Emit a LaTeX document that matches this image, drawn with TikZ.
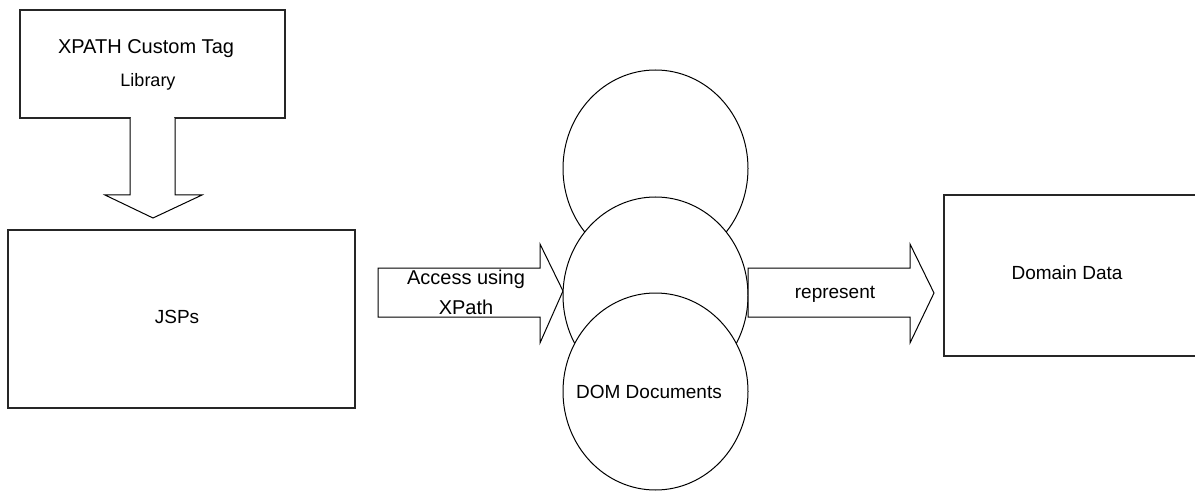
\documentclass[tikz,border=0pt]{standalone}
\usepackage{fontspec}
\setmainfont{Liberation Sans}
\usetikzlibrary{shapes.geometric}
\begin{document}
\begin{tikzpicture}[x=1pt,y=-1pt,
  box/.style={draw=black!85,line width=1.5pt,fill=white},
  blockarrow/.style={draw=black,line width=1pt,fill=white,line join=miter},
  disc/.style={draw=black,line width=1pt,fill=white,ellipse,minimum width=185pt,minimum height=197pt,inner sep=0pt},
  lbl/.style={font=\fontsize{19pt}{21pt}\selectfont,inner sep=0pt,anchor=center},
  big/.style={font=\fontsize{20pt}{22pt}\selectfont}]
\useasboundingbox (0,0) rectangle (1195,492);
% top box
\draw[box] (20,10) rectangle (285,118);
\node[lbl,big] (xpath) at (146,49) {XPATH Custom Tag};
\node[lbl,font=\fontsize{18pt}{20pt}\selectfont] (lib) at (148,82) {Library};
% down block arrow
\fill[white] (131,116) rectangle (174,120);
\draw[blockarrow] (130,118) -- (130,195) -- (105,195) -- (153,218) -- (202,195) -- (175,195) -- (175,118);
% JSPs box
\draw[box] (8,230) rectangle (355,408);
\node[lbl] (jsp) at (177,317) {JSPs};
% access arrow
\draw[blockarrow] (378,268) -- (540,268) -- (540,244) -- (563,291) -- (540,343) -- (540,317) -- (378,317) -- cycle;
\node[lbl,big] (acc1) at (466,279) {Access using};
\node[lbl,big] (acc2) at (466,307) {XPath};
% circles
\node[disc] (c1) at (655.5,168.5) {};
\node[disc] (c2) at (655.5,295.5) {};
\node[disc] (c3) at (655.5,391.5) {};
\node[lbl] (dom) at (649,392) {DOM Documents};
% represent arrow
\draw[blockarrow] (748,268) -- (910,268) -- (910,244) -- (934,293) -- (910,343) -- (910,317) -- (748,317) -- cycle;
\node[lbl] (rep) at (835,294) {represent};
% domain data box
\draw[box] (944,195) rectangle (1205,356);
\node[lbl] (dd) at (1067,273) {Domain Data};
\end{tikzpicture}
\end{document}
